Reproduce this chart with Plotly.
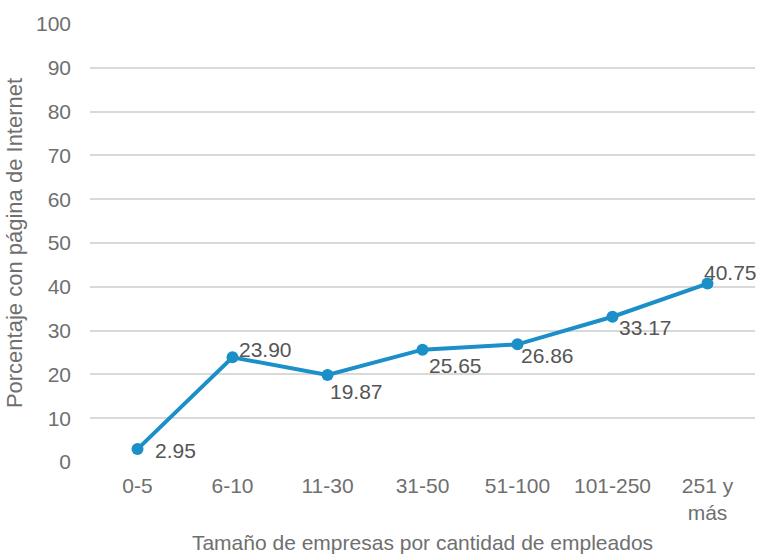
import plotly.graph_objects as go

categories = ["0-5", "6-10", "11-30", "31-50", "51-100", "101-250", "251 y<br>más"]
values = [2.95, 23.90, 19.87, 25.65, 26.86, 33.17, 40.75]
labels = ["2.95", "23.90", "19.87", "25.65", "26.86", "33.17", "40.75"]
y_ticks = [0, 10, 20, 30, 40, 50, 60, 70, 80, 90, 100]

# label offsets (pixels) relative to each point
x_shifts = [16, 5, 1, 5, 2, 5, -5]
y_shifts = [-1, 8, -17, -16, -11, -11, 11]

LINE = "#1a8fc8"
FONT = "Liberation Sans, Arial, sans-serif"

fig = go.Figure()
fig.add_trace(go.Scatter(
    x=categories, y=values, mode="lines+markers",
    line=dict(color=LINE, width=4),
    marker=dict(color=LINE, size=12),
    hoverinfo="skip", showlegend=False,
))

for c, v, t, dx, dy in zip(categories, values, labels, x_shifts, y_shifts):
    fig.add_annotation(x=c, y=v, text=t, showarrow=False,
                       xanchor="left", yanchor="middle",
                       xshift=dx, yshift=dy, borderpad=0,
                       font=dict(family=FONT, size=21, color="#555555"))

fig.update_layout(
    width=761, height=558,
    margin=dict(l=90, r=6, t=24, b=96),
    paper_bgcolor="white", plot_bgcolor="white",
    font=dict(family=FONT, size=21, color="#6f6f6f"),
)
fig.update_xaxes(
    type="category", range=[-0.5, 6.5],
    showgrid=False, showline=False, zeroline=False,
    ticks="", ticklabelstandoff=9,
    tickfont=dict(size=21, color="#6f6f6f"),
    title=dict(text="Tamaño de empresas por cantidad de empleados",
               font=dict(size=21, color="#6f6f6f"), standoff=12),
)
fig.update_yaxes(
    range=[0, 100], tickvals=y_ticks,
    showgrid=True, gridcolor="#d9d9d9", gridwidth=1.5,
    zeroline=False, showline=False, ticks="",
    ticklabelstandoff=18,
    tickfont=dict(size=21, color="#6f6f6f"),
    title=dict(text="Porcentaje con página de Internet",
               font=dict(size=22, color="#6f6f6f"), standoff=7),
)

fig.write_html("out.html")
